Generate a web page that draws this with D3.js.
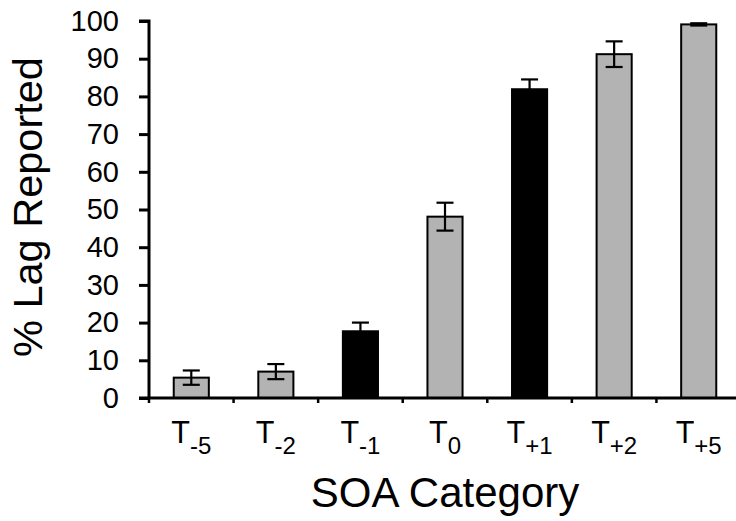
<!DOCTYPE html>
<html>
<head>
<meta charset="utf-8">
<script src="https://cdn.jsdelivr.net/npm/d3@7"></script>
<style>
  html, body { margin: 0; padding: 0; background: #fff; }
  svg { display: block; font-family: "Liberation Sans", Arial, sans-serif; }
</style>
</head>
<body>
<svg id="chart" width="736" height="521"></svg>
<script>
// Data
const categories = ["T-5", "T-2", "T-1", "T0", "T+1", "T+2", "T+5"];
const subscripts = ["-5", "-2", "-1", "0", "+1", "+2", "+5"];
const values = [5.4, 7.0, 17.7, 48.1, 81.9, 91.2, 99.1];
const errors = [1.9, 2.0, 2.3, 3.7, 2.6, 3.4, 0.3];
const highlighted = [false, false, true, false, true, false, false];
const yTicks = [0, 10, 20, 30, 40, 50, 60, 70, 80, 90, 100];

(function () {
const svg = d3.select("#chart");
const mLeft = 149, mRight = 741, mTop = 21, mBottom = 398;

const x = d3.scaleBand().domain(categories).range([mLeft, mRight])
  .paddingInner(0.585).paddingOuter(0.2925);
const y = d3.scaleLinear().domain([0, 100]).range([mBottom, mTop]);

// Bars
svg.append("g").selectAll("rect").data(categories).join("rect")
  .attr("x", d => x(d))
  .attr("y", (d, i) => y(values[i]))
  .attr("width", x.bandwidth())
  .attr("height", (d, i) => y(0) - y(values[i]))
  .attr("fill", (d, i) => highlighted[i] ? "#000" : "#b3b3b3")
  .attr("stroke", "#000")
  .attr("stroke-width", 2);

// Error bars
const eb = svg.append("g").attr("stroke", "#000").attr("stroke-width", 2.2);
categories.forEach((c, i) => {
  const cx = x(c) + x.bandwidth() / 2;
  const hi = y(values[i] + errors[i]), lo = y(values[i] - errors[i]);
  eb.append("line").attr("x1", cx).attr("x2", cx).attr("y1", hi).attr("y2", lo);
  eb.append("line").attr("x1", cx - 8.5).attr("x2", cx + 8.5).attr("y1", hi).attr("y2", hi);
  eb.append("line").attr("x1", cx - 8.5).attr("x2", cx + 8.5).attr("y1", lo).attr("y2", lo);
});

// Y axis
const yAxis = d3.axisLeft(y).tickValues(yTicks).tickSize(10).tickPadding(20);
const gy = svg.append("g").attr("transform", `translate(${mLeft},0)`).call(yAxis);
gy.select(".domain").attr("stroke-width", 3).attr("d", `M-10,${mTop}H0V${mBottom}`);
gy.selectAll(".tick line").attr("stroke-width", 3);
gy.selectAll(".tick text").attr("font-size", 29).attr("fill", "#000")
  .attr("font-family", "Liberation Sans, Arial, sans-serif");

// X axis
const xTickPos = categories.map(c => x(c) - x.step() * x.paddingInner() / 2);
const gx = svg.append("g");
gx.append("line").attr("x1", mLeft - 10).attr("x2", 736).attr("y1", mBottom).attr("y2", mBottom)
  .attr("stroke", "#000").attr("stroke-width", 3);
gx.selectAll("line.tk").data(xTickPos).join("line").attr("class", "tk")
  .attr("x1", d => d).attr("x2", d => d).attr("y1", mBottom).attr("y2", mBottom + 5)
  .attr("stroke", "#000").attr("stroke-width", 2.5);

// Category labels with subscripts
categories.forEach((c, i) => {
  const t = svg.append("text")
    .attr("x", x(c) + x.bandwidth() / 2)
    .attr("y", 443)
    .attr("text-anchor", "middle")
    .attr("font-size", 30.5)
    .attr("fill", "#000");
  t.append("tspan").text("T");
  t.append("tspan").attr("font-size", 24).attr("dy", 11).text(subscripts[i]);
});

// Axis titles
svg.append("text")
  .attr("x", (mLeft + mRight) / 2)
  .attr("y", 507)
  .attr("text-anchor", "middle")
  .attr("font-size", 42)
  .attr("fill", "#000")
  .text("SOA Category");

svg.append("text")
  .attr("transform", "translate(42,207) rotate(-90)")
  .attr("text-anchor", "middle")
  .attr("font-size", 41.5)
  .attr("fill", "#000")
  .text("% Lag Reported");
})();
</script>
</body>
</html>
